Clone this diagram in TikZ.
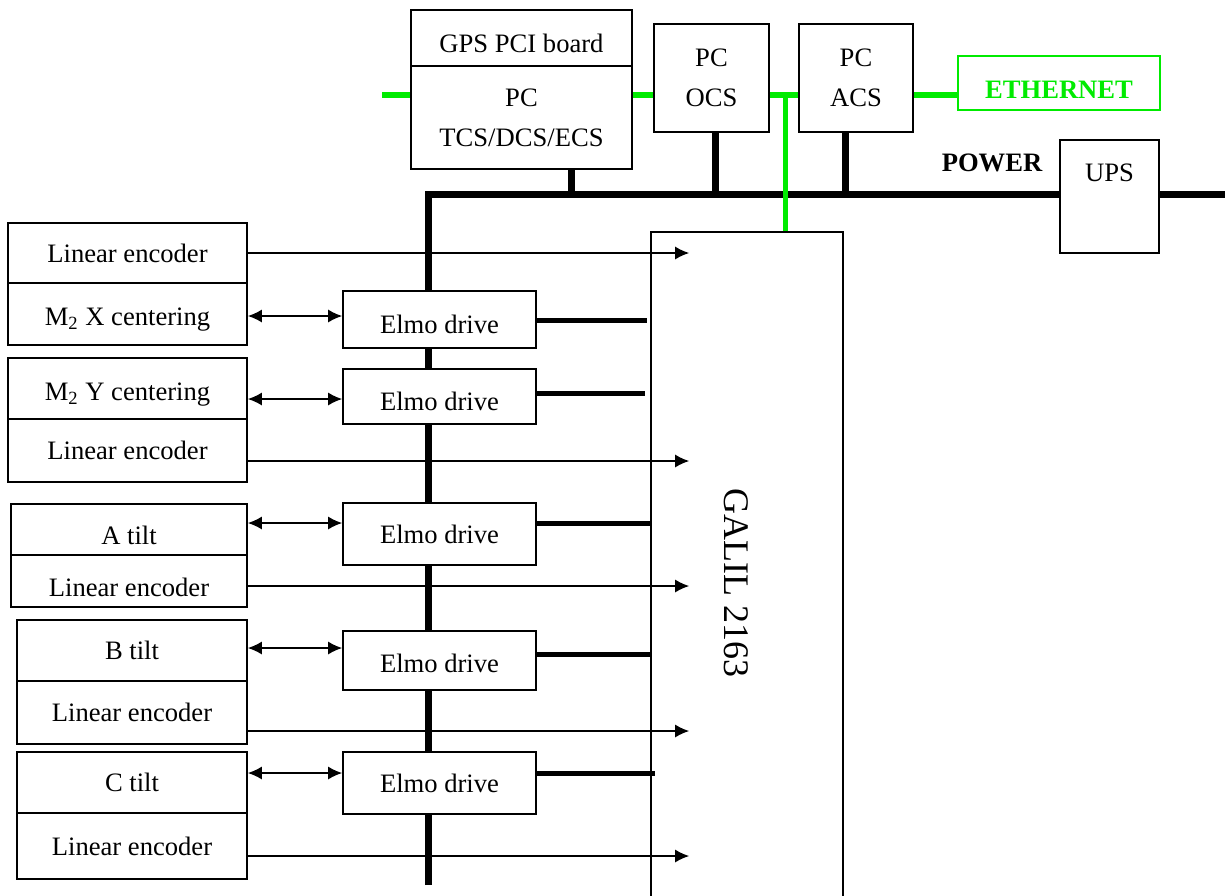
\documentclass[tikz,border=0pt]{standalone}
\usepackage{fontspec}
\setmainfont{Liberation Serif}
\usetikzlibrary{arrows.meta}
\definecolor{ethgreen}{RGB}{0,235,0}
\newcommand\dn[1]{\rule{0pt}{#1}}

\begin{document}
\begin{tikzpicture}[x=0.5pt, y=-0.5pt,
        >={Latex[length=7pt, width=6.5pt]},
        box/.style ={draw, line width=0.8pt, fill=white, inner sep=0pt,
                     align=center, font=\fontsize{13.3}{16}\selectfont},
        ethbox/.style={draw=ethgreen, line width=1pt, fill=white, inner sep=0pt,
                     text=ethgreen, font=\bfseries\fontsize{13.3}{16}\selectfont},
        bus/.style ={line width=3.5pt},
        link/.style={line width=2.5pt},
        eth/.style ={draw=ethgreen, line width=3pt},
        darr/.style={<->, line width=0.8pt},
        sarr/.style={->, line width=0.8pt},
        lbl/.style ={font=\bfseries\fontsize{13.3}{16}\selectfont},]

    \useasboundingbox (0,0) rectangle (1225,895);

    % power bus
    \coordinate (busT) at (428,194);
    \coordinate (busB) at (428,885);
    \coordinate (pwrR) at (1225,194);
    \draw[bus] (busB) -- (busT) -- (pwrR);

    % computers
    \node[box, minimum width=110.5pt, minimum height=28pt] (gps) at (521.5,38)
        {\dn{14.5pt}GPS PCI board};
    \node[box, minimum width=110.5pt, minimum height=51.5pt] (tcs) at (521.5,117.5)
        {PC\\[4pt]TCS/DCS/ECS};
    \node[box, minimum width=57.5pt, minimum height=54pt] (ocs) at (711.5,78)
        {PC\\[4pt]OCS};
    \node[box, minimum width=57pt, minimum height=54pt] (acs) at (856,78)
        {PC\\[4pt]ACS};
    \node[ethbox, minimum width=101pt, minimum height=27pt] (ether) at (1059,83)
        {\dn{15.5pt}ETHERNET};
    \node[lbl] (power) at (992,163) {POWER};
    \node[box, minimum width=49.5pt, minimum height=56.5pt] (ups) at (1109.5,196.5) {};
    \node[box, draw=none, fill=none] (upstxt) at (1109.5,173) {UPS};

    % controller
    \node[box, minimum width=96pt, minimum height=334pt] (galil) at (747,566) {};
    \node[rotate=-90, font=\fontsize{18}{20}\selectfont] (galiltxt) at (736,583)
        {GALIL 2163};

    % ethernet
    \coordinate (ethL) at (382,95);
    \draw[eth] (ethL) -- (ethL -| tcs.west);
    \draw[eth] (tcs.east |- ethL) -- (ocs.west |- ethL);
    \draw[eth] (ocs.east |- ethL) -- (acs.west |- ethL);
    \draw[eth] (acs.east |- ethL) -- (ether.west |- ethL);
    \draw[eth, line width=2.5pt] ([xshift=19pt]galil.north |- ethL)
        -- ([xshift=19pt]galil.north);

    % power stubs
    \draw[bus] ([xshift=25pt]tcs.south) -- ([xshift=25pt]tcs.south |- busT);
    \draw[bus] ([xshift=1.75pt]ocs.south) -- ([xshift=1.75pt]ocs.south |- busT);
    \draw[bus] ([xshift=-5.5pt]acs.south) -- ([xshift=-5.5pt]acs.south |- busT);

    % axes
    \node[box, minimum width=119.5pt, minimum height=30pt] (enc1) at (127.5,253)
        {Linear encoder};
    \node[box, minimum width=119.5pt, minimum height=31pt] (mx) at (127.5,314)
        {\dn{14.5pt}M\textsubscript{2} X centering};
    \node[box, minimum width=119.5pt, minimum height=30.5pt] (my) at (127.5,388.5)
        {\dn{14.5pt}M\textsubscript{2} Y centering};
    \node[box, minimum width=119.5pt, minimum height=31.5pt] (enc2) at (127.5,450.5)
        {Linear encoder};
    \node[box, minimum width=118pt, minimum height=25.5pt] (atilt) at (129,529.5)
        {\dn{15.5pt}A tilt};
    \node[box, minimum width=118pt, minimum height=26pt] (enc3) at (129,581)
        {\dn{15.5pt}Linear encoder};
    \node[box, minimum width=115pt, minimum height=30.5pt] (btilt) at (132,650.5)
        {B tilt};
    \node[box, minimum width=115pt, minimum height=31.5pt] (enc4) at (132,712.5)
        {Linear encoder};
    \node[box, minimum width=115pt, minimum height=30.5pt] (ctilt) at (132,782.5)
        {C tilt};
    \node[box, minimum width=115pt, minimum height=33pt] (enc5) at (132,846)
        {Linear encoder};

    \node[box, minimum width=96.5pt, minimum height=28.5pt] (e1) at (439.5,319.5)
        {\dn{14.5pt}Elmo drive};
    \node[box, minimum width=96.5pt, minimum height=27.5pt] (e2) at (439.5,396.5)
        {\dn{14.5pt}Elmo drive};
    \node[box, minimum width=96.5pt, minimum height=31pt] (e3) at (439.5,534)
        {Elmo drive};
    \node[box, minimum width=96.5pt, minimum height=29.5pt] (e4) at (439.5,660.5)
        {\dn{12.5pt}Elmo drive};
    \node[box, minimum width=96.5pt, minimum height=31pt] (e5) at (439.5,783)
        {Elmo drive};

    % drive to motor
    \draw[darr] (mx.east |- 0,316) -- (e1.west |- 0,316);
    \draw[darr] (my.east |- 0,399) -- (e2.west |- 0,399);
    \draw[darr] (atilt.east |- 0,523) -- (e3.west |- 0,523);
    \draw[darr] (btilt.east |- 0,648) -- (e4.west |- 0,648);
    \draw[darr] (ctilt.east |- 0,773) -- (e5.west |- 0,773);

    % drive to controller
    \draw[link] (e1.east |- 0,320) -- ([xshift=-1.5pt]galil.west |- 0,320);
    \draw[link] (e2.east |- 0,393) -- ([xshift=-2.5pt]galil.west |- 0,393);
    \draw[link] (e3.east |- 0,523) -- (galil.west |- 0,523);
    \draw[link] (e4.east |- 0,654) -- (galil.west |- 0,654);
    \draw[link] (e5.east |- 0,773) -- ([xshift=2.5pt]galil.west |- 0,773);

    % encoders
    \draw[sarr] (enc1.east |- 0,253) -- ([xshift=19.5pt]galil.west |- 0,253);
    \draw[sarr] (enc2.east |- 0,461) -- ([xshift=19.5pt]galil.west |- 0,461);
    \draw[sarr] (enc3.east |- 0,586) -- ([xshift=19.5pt]galil.west |- 0,586);
    \draw[sarr] (enc4.east |- 0,731) -- ([xshift=19.5pt]galil.west |- 0,731);
    \draw[sarr] (enc5.east |- 0,856) -- ([xshift=19.5pt]galil.west |- 0,856);
\end{tikzpicture}
\end{document}
